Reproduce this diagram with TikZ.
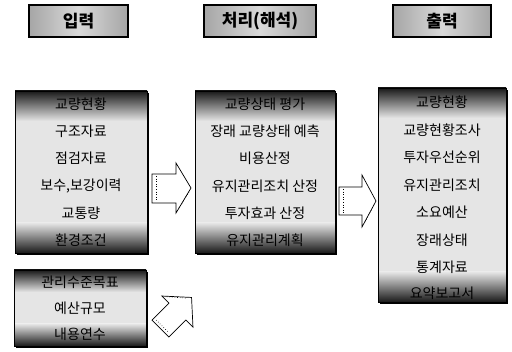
\documentclass[tikz,border=0pt]{standalone}
\usepackage{fontspec}
\newfontfamily\kr{Noto Sans CJK KR}
\begin{document}
\begin{tikzpicture}[x=1pt,y=-1pt,
  lbl/.style={font=\kr\fontsize{14}{16}\selectfont, inner sep=0pt, text=black},
  ttl/.style={font=\kr\bfseries\fontsize{17}{19}\selectfont, inner sep=0pt},
  bar/.style={draw=black, line width=1.8pt, left color=gray!70, right color=gray!70, middle color=gray!30},
  light/.style={fill=gray!20},
  darktop/.style={top color=black!90, bottom color=gray!20},
  darkbot/.style={top color=gray!20, bottom color=black!90},
  frame/.style={draw=black, line width=0.6pt},
  hollow/.style={draw=black, fill=white, line width=0.7pt, line join=miter},
  dots/.style={dotted, line width=0.6pt}
]
\useasboundingbox (0,0) rectangle (512,352);

% title bars
\draw[bar] (29,5) rectangle (128,37);
\node[ttl] (t1) at (78.5,21) {입력};
\draw[bar] (204,5) rectangle (316,37);
\node[ttl] (t2) at (260,21) {처리(해석)};
\draw[bar] (393,5) rectangle (491,37);
\node[ttl] (t3) at (442,21) {출력};

% input box
\fill[black] (17,93) rectangle (149,255);
\fill[light] (15,91) rectangle (147,253);
\shade[darktop] (15,91) rectangle (147,121);
\shade[darkbot] (15,223) rectangle (147,253);
\draw[frame] (15,91) rectangle (147,253);
\node[lbl] (i1) at (81,104) {교량현황};
\node[lbl] (i2) at (81,131) {구조자료};
\node[lbl] (i3) at (81,158) {점검자료};
\node[lbl] (i4) at (81,186) {보수,보강이력};
\node[lbl] (i5) at (81,213) {교통량};
\node[lbl] (i6) at (81,240) {환경조건};

% second input box
\fill[black] (16,272) rectangle (148,348);
\fill[light] (14,270) rectangle (146,346);
\shade[darktop] (14,270) rectangle (146,292);
\shade[darkbot] (14,324) rectangle (146,346);
\draw[frame] (14,270) rectangle (146,346);
\node[lbl] (j1) at (80,282) {관리수준목표};
\node[lbl] (j2) at (80,308) {예산규모};
\node[lbl] (j3) at (80,334) {내용연수};

% middle box
\fill[black] (197,93) rectangle (337,255);
\fill[light] (195,91) rectangle (335,253);
\shade[darktop] (195,91) rectangle (335,121);
\shade[darkbot] (195,223) rectangle (335,253);
\draw[frame] (195,91) rectangle (335,253);
\node[lbl] (m1) at (265,104) {교량상태 평가};
\node[lbl] (m2) at (265,131) {장래 교량상태 예측};
\node[lbl] (m3) at (265,158) {비용산정};
\node[lbl] (m4) at (265,186) {유지관리조치 산정};
\node[lbl] (m5) at (265,213) {투자효과 산정};
\node[lbl] (m6) at (265,240) {유지관리계획};

% output box
\fill[black] (380,90) rectangle (508,304);
\fill[light] (378,88) rectangle (506,302);
\shade[darktop] (378,88) rectangle (506,118);
\shade[darkbot] (378,272) rectangle (506,302);
\draw[frame] (378,88) rectangle (506,302);
\node[lbl] (o1) at (442,102) {교량현황};
\node[lbl] (o2) at (442,130) {교량현황조사};
\node[lbl] (o3) at (442,157) {투자우선순위};
\node[lbl] (o4) at (442,185) {유지관리조치};
\node[lbl] (o5) at (442,212) {소요예산};
\node[lbl] (o6) at (442,240) {장래상태};
\node[lbl] (o7) at (442,267) {통계자료};
\node[lbl] (o8) at (442,293) {요약보고서};

% block arrow input -> middle
\draw[hollow] (152,174) -- (176,174) -- (176,163) -- (191,188) -- (176,213) -- (176,203) -- (152,203) -- cycle;
\draw[dots] (156,176) -- (156,201);
\draw[dots] (179,208) -- (189,192);

% block arrow middle -> output
\draw[hollow] (339,187) -- (362,187) -- (362,175) -- (376,201) -- (362,227) -- (362,215) -- (339,215) -- cycle;
\draw[dots] (343,189) -- (343,213);
\draw[dots] (365,222) -- (374,205);

% diagonal block arrow
\begin{scope}[shift={(176,313)}, rotate=45]
\draw[hollow] (-22,-12) -- (2,-12) -- (2,-22) -- (22,0) -- (2,22) -- (2,12) -- (-22,12) -- cycle;
\draw[dots] (-19,-9) -- (-19,9);
\draw[dots] (5,-18) -- (18,-3);
\end{scope}
\end{tikzpicture}
\end{document}
